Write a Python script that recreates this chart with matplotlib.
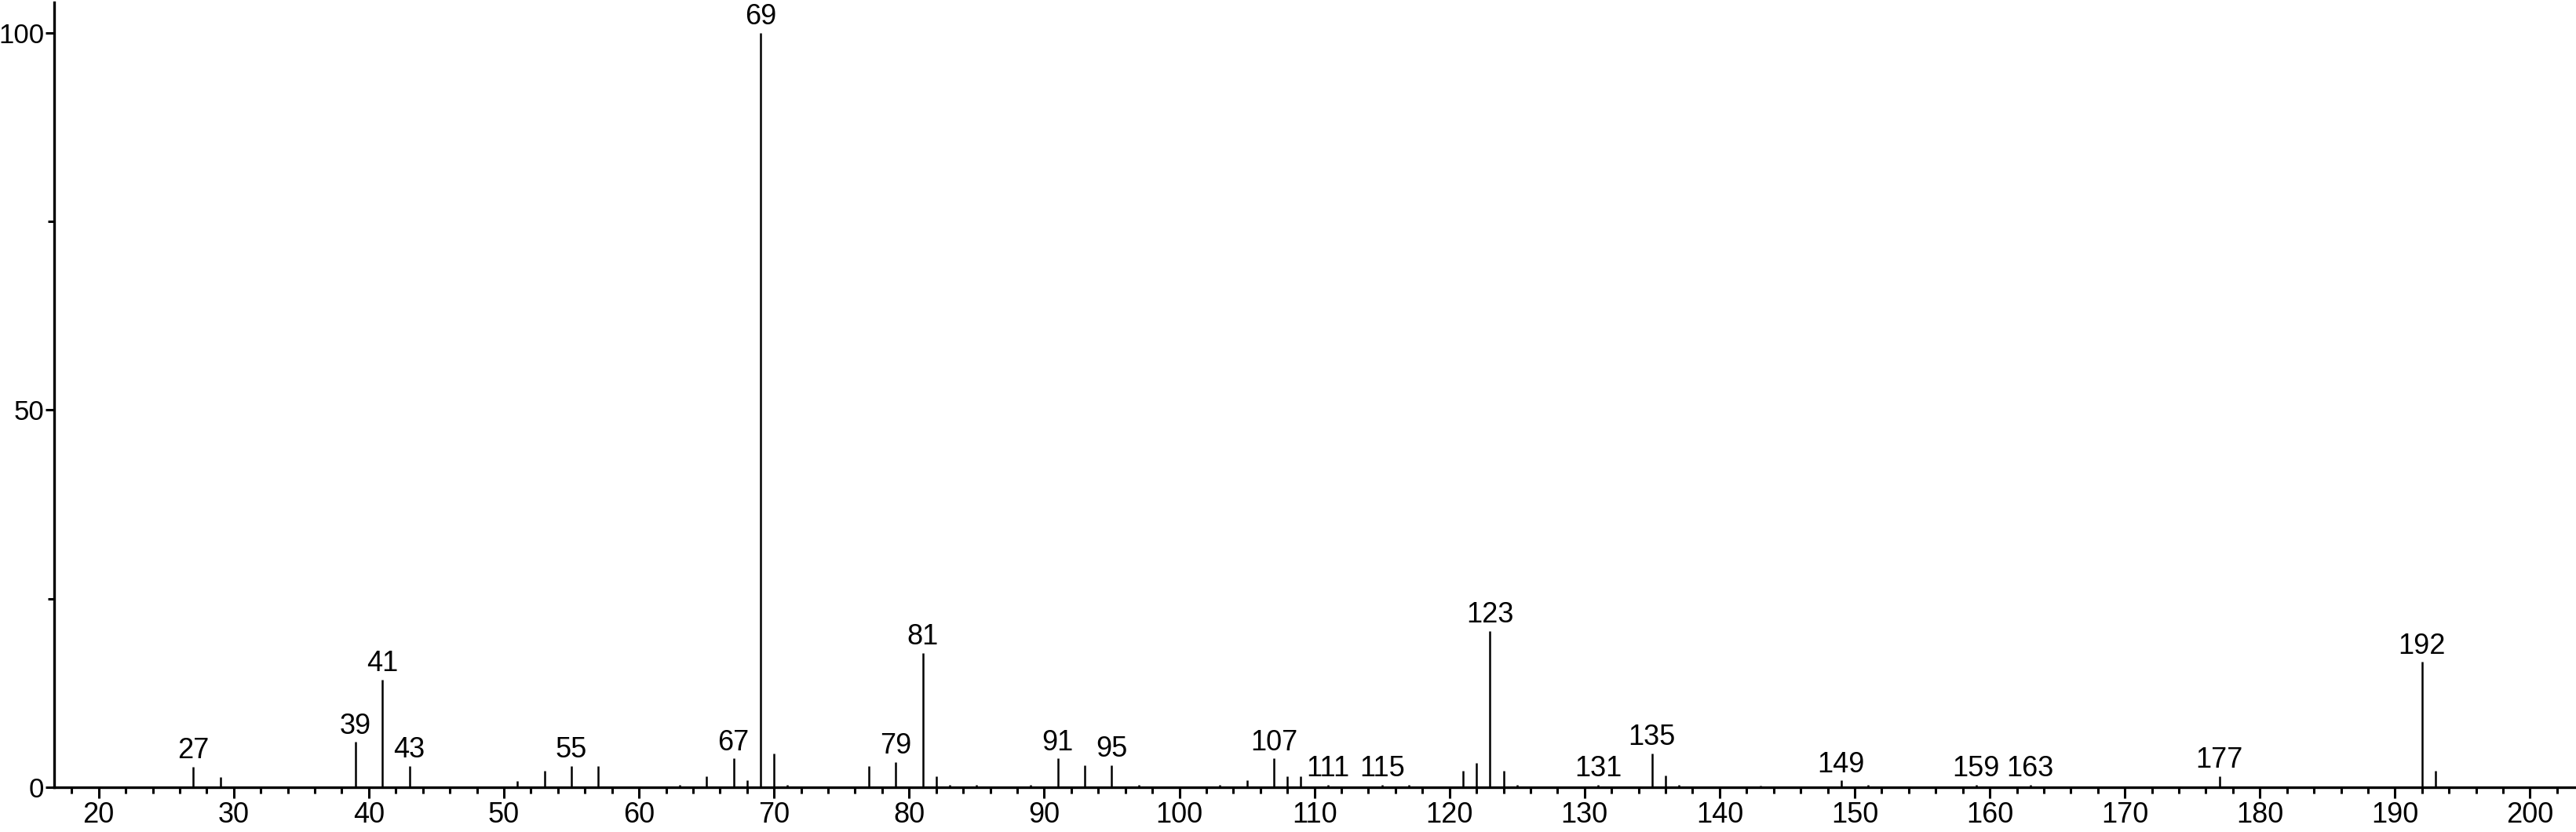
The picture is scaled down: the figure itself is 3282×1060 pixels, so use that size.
import matplotlib
matplotlib.use("Agg")
import matplotlib.pyplot as plt
from matplotlib.ticker import MultipleLocator

plt.rcParams['font.family'] = ['Liberation Sans', 'DejaVu Sans']

# m/z values and relative intensities (%)
mz = [27, 29, 39, 41, 43, 51, 53, 55, 57, 63, 65, 67, 68, 69, 70, 71, 77, 79,
      81, 82, 83, 85, 89, 91, 93, 95, 97, 103, 105, 107, 108, 109, 111, 115,
      117, 121, 122, 123, 124, 125, 131, 135, 136, 137, 143, 149, 151, 159,
      163, 177, 192, 193]
intensity = [2.7, 1.4, 6.0, 14.3, 2.8, 0.8, 2.2, 2.8, 2.8, 0.3, 1.5, 3.8, 0.9,
             100.0, 4.5, 0.3, 2.8, 3.3, 17.8, 1.5, 0.3, 0.3, 0.3, 3.8, 2.9,
             2.9, 0.3, 0.3, 0.9, 3.8, 1.5, 1.5, 0.3, 0.3, 0.3, 2.2, 3.2, 20.7,
             2.2, 0.3, 0.3, 4.5, 1.6, 0.3, 0.2, 0.9, 0.3, 0.3, 0.3, 1.5, 16.6,
             2.2]
labeled_mz = [27, 39, 41, 43, 55, 67, 69, 79, 81, 91, 95, 107, 111, 115, 123,
              131, 135, 149, 159, 163, 177, 192]

x_major = [20, 30, 40, 50, 60, 70, 80, 90, 100, 110, 120, 130, 140, 150, 160,
           170, 180, 190, 200]
y_major = [0, 50, 100]

fig = plt.figure(figsize=(32.82, 10.60), dpi=100)
ax = fig.add_axes([0.021, 0.0538, 0.979, 0.9434])

ax.vlines(mz, 0, intensity, colors='black', linewidth=1.8)

lookup = dict(zip(mz, intensity))
for m in labeled_mz:
    ax.annotate(str(m), xy=(m, lookup[m]), xytext=(0, 2),
                textcoords='offset points', ha='center', va='bottom',
                fontsize=26, color='black')

ax.set_xlim(16.7, 203.4)
ax.set_ylim(0, 104.06)

ax.set_xticks(x_major)
ax.xaxis.set_minor_locator(MultipleLocator(2))
ax.set_yticks(y_major)
ax.yaxis.set_minor_locator(MultipleLocator(25))

for s in ['top', 'right']:
    ax.spines[s].set_visible(False)
for s in ['left', 'bottom']:
    ax.spines[s].set_linewidth(2.4)
    ax.spines[s].set_color('black')

ax.tick_params(axis='x', which='major', direction='out', length=10,
               width=2.2, labelsize=26, pad=3, colors='black')
ax.tick_params(axis='y', which='major', direction='out', length=8,
               width=2.2, labelsize=25, pad=1, colors='black')
ax.tick_params(axis='both', which='minor', direction='out', length=6,
               width=2.2, colors='black')

fig.savefig('out.png', dpi=100)
